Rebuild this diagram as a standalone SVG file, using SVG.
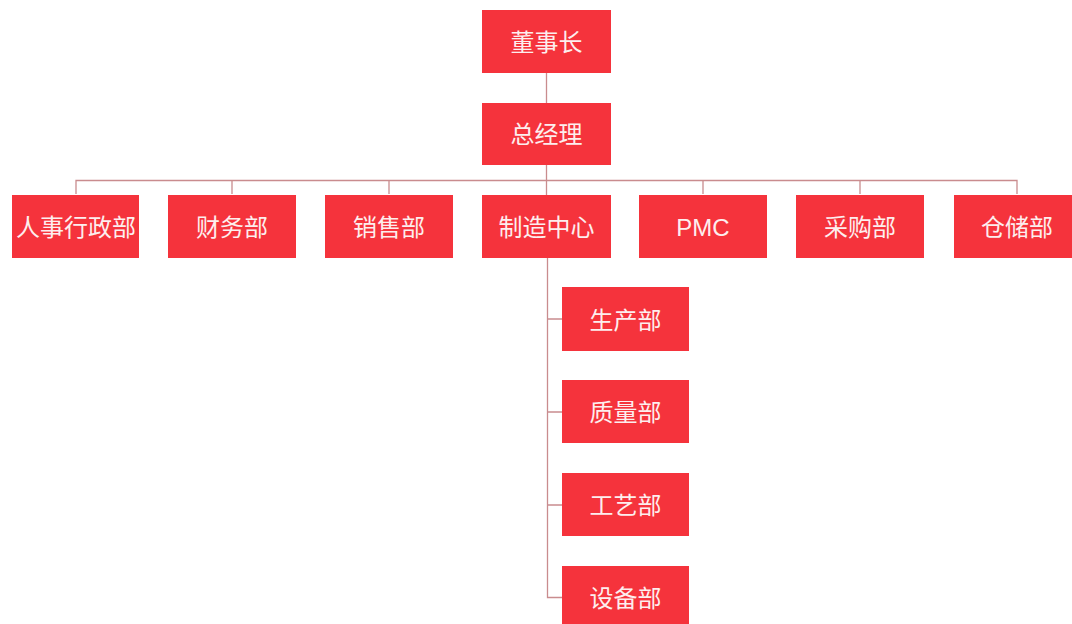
<svg xmlns="http://www.w3.org/2000/svg" width="1072" height="624" viewBox="0 0 1072 624">
<style>
.box{fill:#f5333c}
.t{fill:#fdeeee;font-family:"Liberation Sans","Noto Sans CJK SC",sans-serif;font-size:24px;text-anchor:middle;dominant-baseline:central}
.ln{stroke:#c98c8e;stroke-width:1.3;fill:none}
</style>
<rect width="1072" height="624" fill="#ffffff"/>
<g id="connectors">
<path class="ln" d="M546.5 73V103M546.5 165V195M76 194V180.5H1017V194M232 180.5V194M389 180.5V194M703 180.5V194M860 180.5V194"/>
<path class="ln" d="M547.5 258V597.5H562M547.5 319H562M547.5 412H562M547.5 505H562"/>
</g>
<g id="n1"><rect class="box" x="482" y="10" width="129" height="63"/><text class="t" x="546.5" y="42">董事长</text></g>
<g id="n2"><rect class="box" x="482" y="103" width="129" height="62"/><text class="t" x="546.5" y="134">总经理</text></g>
<g id="n3"><rect class="box" x="12" y="195" width="127" height="63"/><text class="t" x="76" y="227">人事行政部</text></g>
<g id="n4"><rect class="box" x="168" y="195" width="128" height="63"/><text class="t" x="232" y="227">财务部</text></g>
<g id="n5"><rect class="box" x="325" y="195" width="128" height="63"/><text class="t" x="389" y="227">销售部</text></g>
<g id="n6"><rect class="box" x="482" y="195" width="129" height="63"/><text class="t" x="546.5" y="227">制造中心</text></g>
<g id="n7"><rect class="box" x="639" y="195" width="128" height="63"/><text class="t" x="703" y="227">PMC</text></g>
<g id="n8"><rect class="box" x="796" y="195" width="128" height="63"/><text class="t" x="860" y="227">采购部</text></g>
<g id="n9"><rect class="box" x="954" y="195" width="128" height="63"/><text class="t" x="1017" y="227">仓储部</text></g>
<g id="n10"><rect class="box" x="562" y="287" width="127" height="64"/><text class="t" x="625.5" y="320">生产部</text></g>
<g id="n11"><rect class="box" x="562" y="380" width="127" height="63"/><text class="t" x="625.5" y="412">质量部</text></g>
<g id="n12"><rect class="box" x="562" y="473" width="127" height="63"/><text class="t" x="625.5" y="505">工艺部</text></g>
<g id="n13"><rect class="box" x="562" y="566" width="127" height="63"/><text class="t" x="625.5" y="598">设备部</text></g>
</svg>
